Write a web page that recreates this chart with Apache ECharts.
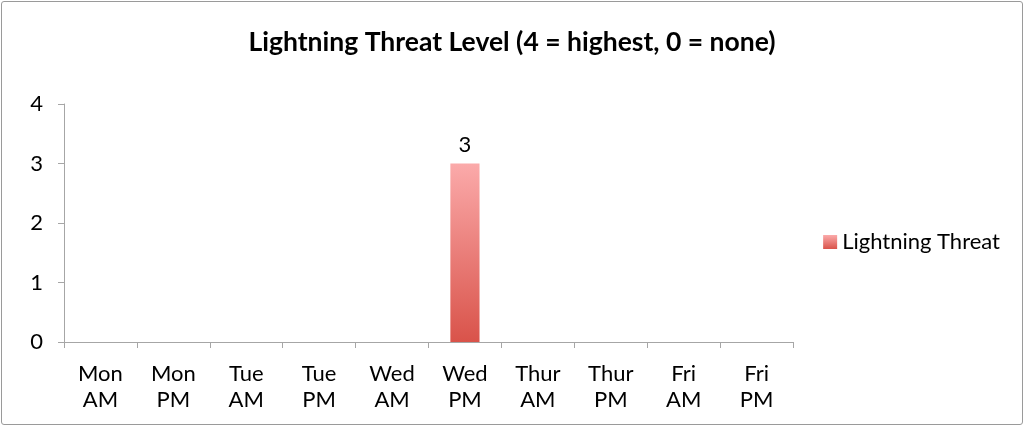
<!DOCTYPE html>
<html>
<head>
<meta charset="utf-8">
<script src="https://cdn.jsdelivr.net/npm/echarts@6/dist/echarts.min.js"></script>
<style>
  html, body { margin: 0; padding: 0; background: #fff; }
  #chart {
    width: 1020px; height: 422px;
    margin: 1px;
    border: 1px solid #9a9a9a;
    border-radius: 3px;
  }
</style>
</head>
<body>
<div id="chart"></div>
<script>
// 时段分类
const categories = ['Mon\nAM', 'Mon\nPM', 'Tue\nAM', 'Tue\nPM', 'Wed\nAM', 'Wed\nPM', 'Thur\nAM', 'Thur\nPM', 'Fri\nAM', 'Fri\nPM'];
// 雷电威胁等级
const threatLevels = [0, 0, 0, 0, 0, 3, 0, 0, 0, 0];
const seriesName = 'Lightning Threat';

const FONT = 'Lato';
const barGradient = new echarts.graphic.LinearGradient(0, 0, 0, 1, [
  { offset: 0, color: '#fbaaaa' },
  { offset: 1, color: '#d9534a' }
]);

const chart = echarts.init(document.getElementById('chart'));
chart.setOption({
  animation: false,
  title: {
    text: 'Lightning Threat Level (4 = highest, 0 = none)',
    left: 'center',
    top: 22,
    textStyle: { fontFamily: FONT, fontWeight: 'bold', fontSize: 26.5, color: '#000' }
  },
  legend: {
    data: [seriesName],
    right: 17,
    top: 224,
    icon: 'rect',
    itemWidth: 14,
    itemHeight: 14,
    itemGap: 6,
    textStyle: { fontFamily: FONT, fontSize: 22, color: '#000' }
  },
  grid: { left: 62, right: 229, top: 102, bottom: 82 },
  xAxis: {
    type: 'category',
    data: categories,
    axisLine: { lineStyle: { color: '#a6a6a6', width: 1 } },
    axisTick: { show: true, length: 6, lineStyle: { color: '#a6a6a6' } },
    axisLabel: {
      fontFamily: FONT, fontSize: 22, color: '#000',
      margin: 19, lineHeight: 26, interval: 0
    }
  },
  yAxis: {
    type: 'value',
    min: 0, max: 4, interval: 1,
    axisLine: { show: true, lineStyle: { color: '#a6a6a6', width: 1 } },
    axisTick: { show: true, length: 6, lineStyle: { color: '#a6a6a6' } },
    splitLine: { show: false },
    axisLabel: { fontFamily: FONT, fontSize: 22, color: '#000', margin: 21 }
  },
  series: [{
    name: seriesName,
    type: 'bar',
    data: threatLevels,
    barWidth: '40%',
    itemStyle: { color: barGradient },
    label: {
      show: true,
      position: 'top',
      distance: 8,
      fontFamily: FONT, fontSize: 22, color: '#000',
      formatter: p => (p.value > 0 ? p.value : '')
    }
  }]
});
</script>
</body>
</html>
